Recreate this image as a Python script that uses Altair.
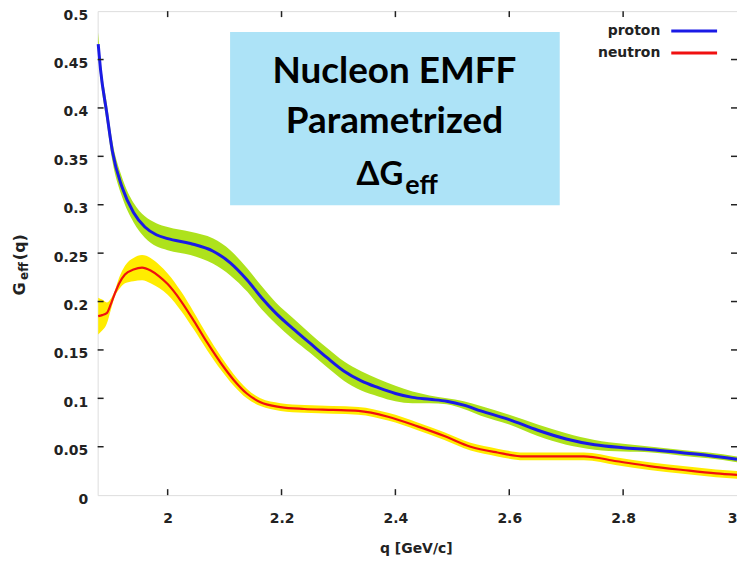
import altair as alt
import pandas as pd

# ---------------- data ----------------
proton_q = [1.878, 1.882, 1.893, 1.903, 1.920, 1.940, 1.960, 1.980, 2.000, 2.040,
            2.080, 2.110, 2.140, 2.165, 2.190, 2.220, 2.250, 2.280, 2.310, 2.340,
            2.370, 2.400, 2.430, 2.460, 2.490, 2.520, 2.550, 2.600, 2.650, 2.700,
            2.750, 2.800, 2.850, 2.900, 2.950, 3.000]
proton_g = [0.466, 0.440, 0.395, 0.355, 0.318, 0.292, 0.277, 0.269, 0.265, 0.260,
            0.252, 0.240, 0.222, 0.204, 0.188, 0.172, 0.157, 0.142, 0.128, 0.118,
            0.111, 0.105, 0.101, 0.099, 0.097, 0.093, 0.087, 0.078, 0.067, 0.058,
            0.052, 0.049, 0.047, 0.044, 0.041, 0.037]
proton_err = [0.012, 0.010, 0.010, 0.010, 0.010, 0.010, 0.011, 0.012, 0.012, 0.012,
              0.013, 0.013, 0.012, 0.012, 0.011, 0.011, 0.010, 0.010, 0.010, 0.010,
              0.009, 0.008, 0.006, 0.004, 0.003, 0.004, 0.005, 0.005, 0.006, 0.006,
              0.005, 0.004, 0.003, 0.003, 0.003, 0.003]

neutron_q = [1.878, 1.885, 1.893, 1.900, 1.907, 1.915, 1.925, 1.940, 1.955, 1.970,
             1.985, 2.000, 2.024, 2.046, 2.069, 2.094, 2.116, 2.139, 2.163, 2.198,
             2.240, 2.290, 2.335, 2.387, 2.439, 2.486, 2.532, 2.579, 2.626, 2.680,
             2.731, 2.789, 2.846, 2.905, 2.963, 3.000]
neutron_g = [0.185, 0.186, 0.188, 0.197, 0.208, 0.219, 0.228, 0.233, 0.235, 0.232,
             0.226, 0.218, 0.200, 0.180, 0.158, 0.136, 0.119, 0.105, 0.096, 0.091,
             0.089, 0.088, 0.087, 0.081, 0.071, 0.061, 0.050, 0.044, 0.040, 0.040,
             0.040, 0.035, 0.030, 0.026, 0.0225, 0.021]
neutron_err = [0.019, 0.016, 0.011, 0.006, 0.003, 0.006, 0.009, 0.012, 0.013, 0.013,
               0.012, 0.011, 0.010, 0.009, 0.008, 0.007, 0.006, 0.005, 0.004, 0.004,
               0.004, 0.004, 0.004, 0.004, 0.004, 0.004, 0.004, 0.004, 0.004, 0.004,
               0.004, 0.004, 0.004, 0.004, 0.004, 0.004]

x_ticks = [2.0, 2.2, 2.4, 2.6, 2.8, 3.0]
y_ticks = [0, 0.05, 0.1, 0.15, 0.2, 0.25, 0.3, 0.35, 0.4, 0.45, 0.5]
x_domain = [1.877, 3.0]
y_domain = [0.0, 0.5]

title_lines = ["Nucleon EMFF", "Parametrized"]
legend_names = ["proton", "neutron"]

# ---------------- build ----------------
W, H = 642, 486
TOP = 2
FONT = "DejaVu Sans"

prot = pd.DataFrame({"q": proton_q, "g": proton_g, "e": proton_err})
prot["lo"] = prot.g - prot.e
prot["hi"] = prot.g + prot.e
neut = pd.DataFrame({"q": neutron_q, "g": neutron_g, "e": neutron_err})
neut["lo"] = neut.g - neut.e
neut["hi"] = neut.g + neut.e

xs = alt.Scale(domain=x_domain, nice=False, zero=False)
ys = alt.Scale(domain=y_domain, nice=False, zero=False)

xaxis = alt.Axis(values=x_ticks, format="~g", ticks=False, domain=False, grid=False,
                 labelFont=FONT, labelFontWeight="bold", labelFontSize=14,
                 labelColor="#222", labelPadding=16, title=None, labelFlush=True)
yaxis = alt.Axis(values=y_ticks, format="~g", ticks=False, domain=False, grid=False,
                 labelFont=FONT, labelFontWeight="bold", labelFontSize=14,
                 labelColor="#222", labelPadding=10, title=None, labelOffset=4,
                 labelFlush=False)

green_band = alt.Chart(prot).mark_area(color="#AEE21C", opacity=1,
                                       interpolate="monotone").encode(
    x=alt.X("q:Q", scale=xs, axis=xaxis),
    y=alt.Y("lo:Q", scale=ys, axis=yaxis),
    y2="hi:Q")
yellow_band = alt.Chart(neut).mark_area(color="#FFEC00", opacity=1,
                                        interpolate="monotone").encode(
    x=alt.X("q:Q", scale=xs), y=alt.Y("lo:Q", scale=ys), y2="hi:Q")
blue_line = alt.Chart(prot).mark_line(color="#1A1AE6", strokeWidth=3,
                                      interpolate="monotone").encode(
    x=alt.X("q:Q", scale=xs), y=alt.Y("g:Q", scale=ys))
red_line = alt.Chart(neut).mark_line(color="#F01010", strokeWidth=2.2,
                                     interpolate="monotone").encode(
    x=alt.X("q:Q", scale=xs), y=alt.Y("g:Q", scale=ys))

# inward mirrored ticks
xt = pd.DataFrame({"v": x_ticks[:-1]})
yt = pd.DataFrame({"v": y_ticks[1:-1]})
tk = dict(color="#222", strokeWidth=1.5)
bottom_t = alt.Chart(xt).mark_rule(**tk).encode(x=alt.X("v:Q", scale=xs), y=alt.value(H), y2=alt.value(H - 6))
top_t = alt.Chart(xt).mark_rule(**tk).encode(x=alt.X("v:Q", scale=xs), y=alt.value(0), y2=alt.value(6))
left_t = alt.Chart(yt).mark_rule(**tk).encode(y=alt.Y("v:Q", scale=ys), x=alt.value(0), x2=alt.value(6))
right_t = alt.Chart(yt).mark_rule(**tk).encode(y=alt.Y("v:Q", scale=ys), x=alt.value(W), x2=alt.value(W - 6))

one = pd.DataFrame({"a": [0]})
dy = 8 - (8 + TOP)  # shift from page-referenced positions (plot top at page 8+TOP)

# title box
box = alt.Chart(one).mark_rect(color="#ADE3F7").encode(
    x=alt.value(133), x2=alt.value(464), y=alt.value(23 + dy), y2=alt.value(197 + dy))
tfont = "Lato"
t1 = alt.Chart(one).mark_text(text=title_lines[0], font=tfont, fontWeight="bold", fontSize=37,
                              align="center", baseline="alphabetic", color="black").encode(
    x=alt.value(298), y=alt.value(74 + dy))
t2 = alt.Chart(one).mark_text(text=title_lines[1], font=tfont, fontWeight="bold", fontSize=37,
                              align="center", baseline="alphabetic", color="black").encode(
    x=alt.value(298), y=alt.value(124 + dy))
t3 = alt.Chart(one).mark_text(text="\u0394G", font=tfont, fontWeight="bold", fontSize=33,
                              align="right", baseline="alphabetic", color="black").encode(
    x=alt.value(307), y=alt.value(177 + dy))
t4 = alt.Chart(one).mark_text(text="eff", font=tfont, fontWeight="bold", fontSize=27,
                              align="left", baseline="alphabetic", color="black").encode(
    x=alt.value(309), y=alt.value(186 + dy))

# legend
leg_text = pd.DataFrame({"name": legend_names, "yy": [22 + dy, 44 + dy]})
lt = alt.Chart(leg_text).mark_text(font=FONT, fontWeight="bold", fontSize=14, align="right",
                                   baseline="middle", color="#222").encode(
    text="name:N", x=alt.value(565), y=alt.Y("yy:Q", scale=None))
lb = alt.Chart(one).mark_rule(color="#1A1AE6", strokeWidth=3).encode(
    x=alt.value(576), x2=alt.value(622), y=alt.value(22 + dy))
lr = alt.Chart(one).mark_rule(color="#F01010", strokeWidth=3).encode(
    x=alt.value(576), x2=alt.value(622), y=alt.value(44 + dy))

# axis titles
xtitle = alt.Chart(one).mark_text(text="q [GeV/c]", font=FONT, fontWeight="bold", fontSize=14,
                                  align="center", baseline="middle", color="#222").encode(
    x=alt.value(320), y=alt.value(542 + dy))
yg = alt.Chart(one).mark_text(text="G", font=FONT, fontWeight="bold", fontSize=16, angle=270,
                              align="center", baseline="middle", color="#222").encode(
    x=alt.value(-78), y=alt.value(281 + dy))
ye = alt.Chart(one).mark_text(text="eff", font=FONT, fontWeight="bold", fontSize=12, angle=270,
                              align="center", baseline="middle", color="#222").encode(
    x=alt.value(-74), y=alt.value(263 + dy))
yq = alt.Chart(one).mark_text(text="(q)", font=FONT, fontWeight="bold", fontSize=16, angle=270,
                              align="center", baseline="middle", color="#222").encode(
    x=alt.value(-78), y=alt.value(239 + dy))

chart = alt.layer(
    green_band, yellow_band, blue_line, red_line,
    bottom_t, top_t, left_t, right_t,
    box, t1, t2, t3, t4, lt, lb, lr, xtitle, yg, ye, yq
).properties(
    width=W, height=H,
    autosize=alt.AutoSizeParams(type="none"),
    padding={"left": 90, "top": TOP, "right": 0, "bottom": 68},
).configure_view(stroke="#222", strokeWidth=2).configure(background="white")

chart.save("out.html", embed_options={"renderer": "svg", "actions": False})
